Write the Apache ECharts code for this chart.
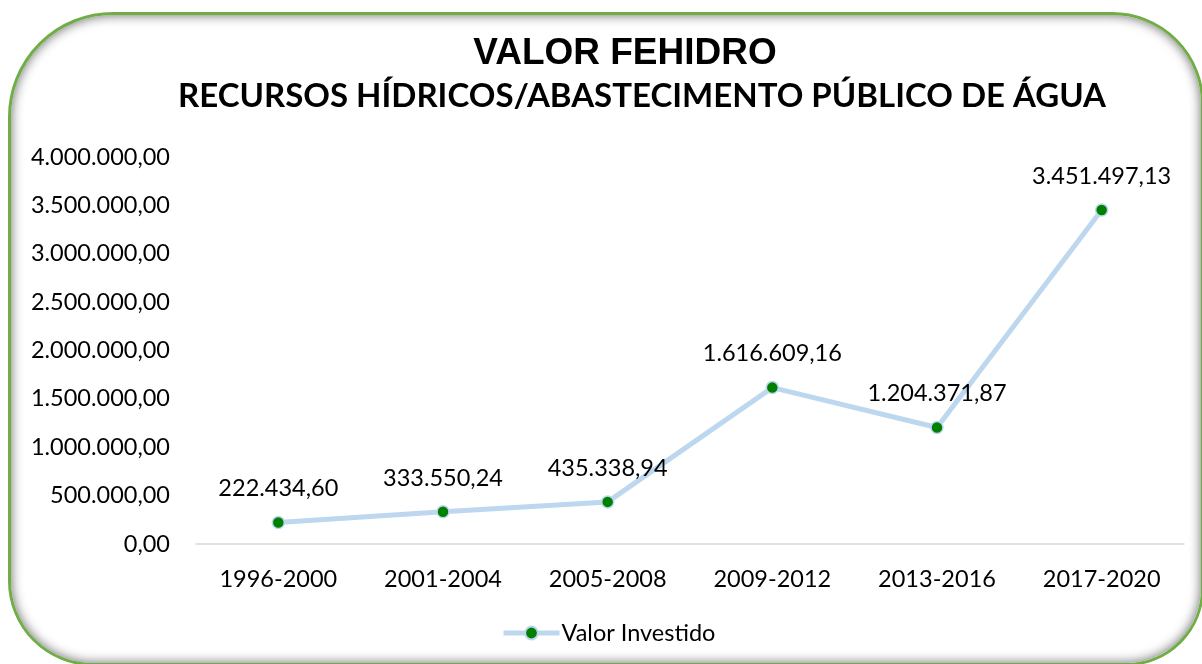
<!DOCTYPE html>
<html>
<head>
<meta charset="utf-8">
<script src="https://cdn.jsdelivr.net/npm/echarts@6/dist/echarts.min.js"></script>
<style>
  html, body { margin: 0; padding: 0; background: #fff; }
  #wrap { position: relative; width: 1202px; height: 664px; overflow: hidden; }
  #frame {
    position: absolute; left: 8px; top: 12px; width: 1196px; height: 654px;
    box-sizing: border-box;
    border: 3px solid #70AD47;
    border-radius: 105px 92px 78px 85px;
    box-shadow: inset 0 0 12px rgba(0, 0, 0, 0.6);
    background: #fff;
  }
  #chart { position: absolute; left: 0; top: 0; width: 1202px; height: 664px; }
</style>
</head>
<body>
<div id="wrap">
  <div id="frame"></div>
  <div id="chart"></div>
</div>
<script>
// periodos e valores investidos
const periodos = ['1996-2000', '2001-2004', '2005-2008', '2009-2012', '2013-2016', '2017-2020']
const valores = [222434.60, 333550.24, 435338.94, 1616609.16, 1204371.87, 3451497.13]

// formata no padrao brasileiro: 1.234.567,89
function fmtBR(v) {
  const parts = Number(v).toFixed(2).split('.')
  const inteiro = parts[0].replace(/\B(?=(\d{3})+(?!\d))/g, '.')
  return inteiro + ',' + parts[1]
}

const myChart = echarts.init(document.getElementById('chart'), null, { renderer: 'canvas' })

const option = {
  backgroundColor: 'transparent',
  animation: false,
  title: [
    {
      text: 'VALOR FEHIDRO',
      left: 620,
      textAlign: 'center',
      top: 30,
      textStyle: { fontFamily: 'Liberation Sans', fontWeight: 'bold', fontSize: 37, color: '#000' }
    },
    {
      text: 'RECURSOS HÍDRICOS/ABASTECIMENTO PÚBLICO DE ÁGUA',
      left: 637,
      textAlign: 'center',
      top: 75,
      textStyle: { fontFamily: 'Lato', fontWeight: 'bold', fontSize: 33, color: '#000' }
    }
  ],
  grid: { left: 196, right: 18, top: 157, bottom: 120, containLabel: false },
  legend: {
    bottom: 14,
    left: 496,
    itemWidth: 56,
    itemHeight: 16,
    itemGap: 10,
    lineStyle: { width: 5, color: '#BDD7EE' },
    textStyle: { fontFamily: 'Lato', fontSize: 23.5, color: '#000', padding: [0, 0, 0, -3] },
    data: ['Valor Investido']
  },
  xAxis: {
    type: 'category',
    data: periodos,
    boundaryGap: true,
    axisLine: { lineStyle: { color: '#D9D9D9', width: 1.5 } },
    axisTick: { show: false },
    axisLabel: { margin: 23, fontFamily: 'Lato', fontSize: 23.5, color: '#000' }
  },
  yAxis: {
    type: 'value',
    min: 0,
    max: 4000000,
    interval: 500000,
    axisLine: { show: false },
    axisTick: { show: false },
    splitLine: { show: false },
    axisLabel: {
      margin: 26,
      fontFamily: 'Lato',
      fontSize: 23.5,
      color: '#000',
      formatter: (v) => fmtBR(v)
    }
  },
  series: [
    {
      name: 'Valor Investido',
      type: 'line',
      data: valores,
      symbol: 'circle',
      symbolSize: 12,
      lineStyle: { color: '#BDD7EE', width: 5 },
      itemStyle: { color: '#008000', borderColor: '#BDD7EE', borderWidth: 1.5 },
      label: {
        show: true,
        position: 'top',
        distance: 15,
        fontFamily: 'Lato',
        fontSize: 23.5,
        color: '#000',
        formatter: (p) => fmtBR(p.value)
      }
    }
  ]
}

myChart.setOption(option)

window.addEventListener('resize', function () {
  myChart.resize()
})
</script>
</body>
</html>
